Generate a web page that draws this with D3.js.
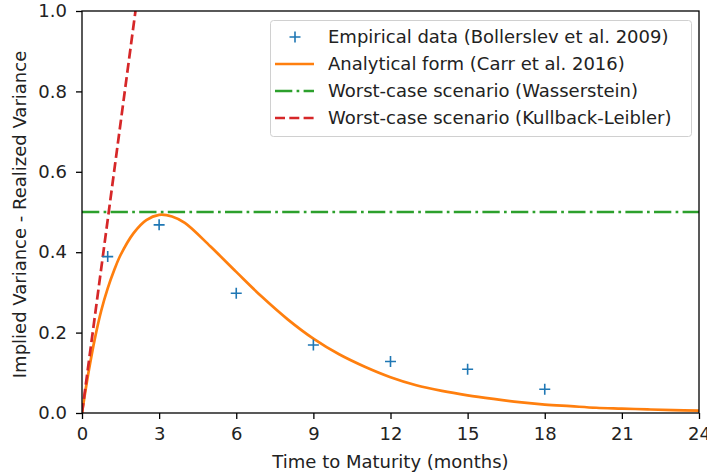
<!DOCTYPE html>
<html>
<head>
<meta charset="utf-8">
<script src="https://cdn.jsdelivr.net/npm/d3@7"></script>
<style>
  body { margin: 0; background: #fff; }
  svg { display: block; font-family: "DejaVu Sans", sans-serif; }
</style>
</head>
<body>
<svg id="chart" width="707" height="475"></svg>
<script>
// Empirical data (Bollerslev et al. 2009)
const empMonths = [1, 3, 6, 9, 12, 15, 18];
const empValues = [0.389, 0.468, 0.298, 0.169, 0.128, 0.109, 0.059];

// Analytical form (Carr et al. 2016)
const carrMonths = [0, 0.25, 0.5, 0.75, 1, 1.25, 1.5, 2, 2.5, 3, 3.5, 4, 5, 6, 7, 8, 9, 10, 11, 12, 13, 14, 15, 16, 17, 18, 19, 20, 21, 22, 23, 24];
const carrValues = [0, 0.10, 0.185, 0.255, 0.31, 0.355, 0.393, 0.447, 0.480, 0.493, 0.489, 0.473, 0.414, 0.351, 0.289, 0.233, 0.185, 0.146, 0.115, 0.089, 0.069, 0.055, 0.044, 0.035, 0.027, 0.021, 0.017, 0.013, 0.011, 0.009, 0.007, 0.006];

// Worst-case scenario (Wasserstein)
const wassMonths = [0, 24];
const wassValues = [0.5, 0.5];

// Worst-case scenario (Kullback-Leibler)
const klMonths = [0, 2.08];
const klValues = [0, 1.0];

const xTicks = [0, 3, 6, 9, 12, 15, 18, 21, 24];
const yTicks = [0.0, 0.2, 0.4, 0.6, 0.8, 1.0];

const legendLabels = [
  "Empirical data (Bollerslev et al. 2009)",
  "Analytical form (Carr et al. 2016)",
  "Worst-case scenario (Wasserstein)",
  "Worst-case scenario (Kullback-Leibler)"
];

const colors = { blue: "#1f77b4", orange: "#ff7f0e", green: "#2ca02c", red: "#d62728" };
const FS = 18;
const LW = 2.7;
const DASH = "10,4.3";
const DASHDOT = "17.3,4.3,2.7,4.3";

const svg = d3.select("#chart");
const L = 82, R = 699, T = 11, B = 413;
const x = d3.scaleLinear().domain([0, 24]).range([L, R]);
const y = d3.scaleLinear().domain([0, 1]).range([B, T]);

svg.append("defs").append("clipPath").attr("id", "clip")
  .append("rect").attr("x", L).attr("y", T).attr("width", R - L).attr("height", B - T);

const plot = svg.append("g").attr("clip-path", "url(#clip)");

// Carr curve
plot.append("path")
  .datum(d3.zip(carrMonths, carrValues))
  .attr("fill", "none").attr("stroke", colors.orange).attr("stroke-width", LW)
  .attr("d", d3.line().x(d => x(d[0])).y(d => y(d[1])).curve(d3.curveCatmullRom.alpha(0.5)));

// Wasserstein
plot.append("path")
  .datum(d3.zip(wassMonths, wassValues))
  .attr("fill", "none").attr("stroke", colors.green).attr("stroke-width", LW)
  .attr("stroke-dasharray", DASHDOT)
  .attr("d", d3.line().x(d => x(d[0])).y(d => y(d[1])));

// KL
plot.append("path")
  .datum(d3.zip(klMonths, klValues))
  .attr("fill", "none").attr("stroke", colors.red).attr("stroke-width", LW)
  .attr("stroke-dasharray", DASH)
  .attr("d", d3.line().x(d => x(d[0])).y(d => y(d[1])));

// Empirical markers
const mk = 5.5;
svg.append("g").selectAll("path.emp")
  .data(d3.zip(empMonths, empValues))
  .join("path")
  .attr("fill", "none").attr("stroke", colors.blue).attr("stroke-width", 1.6)
  .attr("d", d => {
    const cx = x(d[0]), cy = y(d[1]);
    return `M${cx - mk},${cy}H${cx + mk}M${cx},${cy - mk}V${cy + mk}`;
  });

// Frame
svg.append("rect").attr("x", L).attr("y", T).attr("width", R - L).attr("height", B - T)
  .attr("fill", "none").attr("stroke", "#000").attr("stroke-width", 1.3);

// Axes
const xAxis = svg.append("g").attr("transform", `translate(0,${B})`)
  .call(d3.axisBottom(x).tickValues(xTicks).tickFormat(d3.format("d")).tickSize(6).tickPadding(8));
const yAxis = svg.append("g").attr("transform", `translate(${L},0)`)
  .call(d3.axisLeft(y).tickValues(yTicks).tickFormat(d3.format(".1f")).tickSize(6).tickPadding(9));
[xAxis, yAxis].forEach(a => {
  a.select(".domain").remove();
  a.selectAll("text").attr("font-size", FS).attr("fill", "#222").attr("font-family", "DejaVu Sans, sans-serif");
  a.selectAll("line").attr("stroke", "#000").attr("stroke-width", 1.3);
});

svg.append("text").attr("x", (L + R) / 2).attr("y", 468).attr("text-anchor", "middle")
  .attr("font-size", FS).attr("fill", "#222").text("Time to Maturity (months)");
svg.append("text").attr("transform", `translate(25.5,214.5) rotate(-90)`)
  .attr("text-anchor", "middle").attr("font-size", FS).attr("fill", "#222")
  .text("Implied Variance - Realized Variance");

// Legend
const lg = svg.append("g");
lg.append("rect").attr("x", 270.5).attr("y", 20.5).attr("width", 421).attr("height", 116).attr("rx", 3)
  .attr("fill", "#fff").attr("fill-opacity", 0.8).attr("stroke", "#d0d0d0");
const rowY = [37, 64, 91, 118];
const styles = [
  { type: "marker", color: colors.blue },
  { type: "line", color: colors.orange, dash: null },
  { type: "line", color: colors.green, dash: DASHDOT },
  { type: "line", color: colors.red, dash: DASH }
];
legendLabels.forEach((lab, i) => {
  const s = styles[i], cy = rowY[i];
  if (s.type === "marker") {
    lg.append("path").attr("fill", "none").attr("stroke", s.color).attr("stroke-width", 1.6)
      .attr("d", `M${295 - mk},${cy}H${295 + mk}M295,${cy - mk}V${cy + mk}`);
  } else {
    const p = lg.append("line").attr("x1", 275).attr("x2", 314).attr("y1", cy).attr("y2", cy)
      .attr("stroke", s.color).attr("stroke-width", LW);
    if (s.dash) p.attr("stroke-dasharray", s.dash);
  }
  lg.append("text").attr("x", 328).attr("y", cy).attr("dy", "0.35em")
    .attr("font-size", FS).attr("fill", "#222").text(lab);
});
</script>
</body>
</html>
